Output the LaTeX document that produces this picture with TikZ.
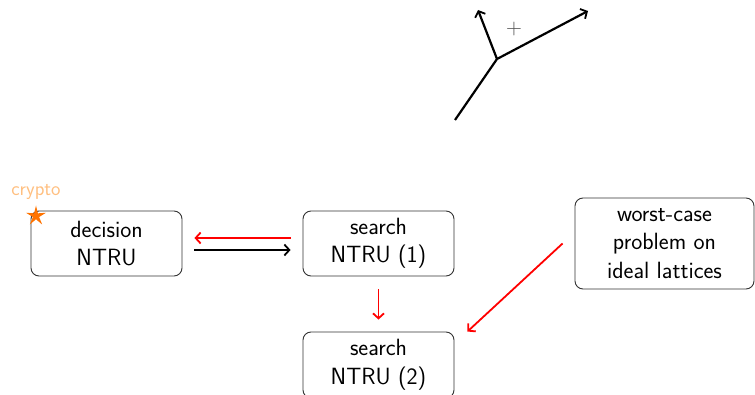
\documentclass[tikz,border=0pt]{standalone}
\usetikzlibrary{shapes.geometric,arrows.meta}
\begin{document}
\begin{tikzpicture}[x=1pt,y=-1pt,
  box/.style={draw=black!80,line width=0.9pt,rounded corners=8pt,align=center,
    inner sep=0pt,font=\sffamily\fontsize{23.5}{28.5}\selectfont},
  tip/.style={-{Straight Barb[length=5pt,width=11pt,line width=1.8pt]}},
  redarrow/.style={tip,red,line width=1.8pt},
  blackarrow/.style={tip,black,line width=1.8pt},
  vec/.style={line width=2.2pt,black},
]
\clip (0,0) rectangle (755,395);
\useasboundingbox (0,0) rectangle (755,395);

\node[box,minimum width=151pt,minimum height=65pt] (dec) at (106.5,243.5) {decision\\NTRU};
\node[box,minimum width=151pt,minimum height=65pt] (s1) at (378.5,243.5) {search\\NTRU (1)};
\node[box,minimum width=151pt,minimum height=66pt] (s2) at (378.5,365) {search\\NTRU (2)};
\node[box,minimum width=179pt,minimum height=91pt] (wc) at (664.5,243.5) {worst-case\\problem on\\ideal lattices};

\draw[redarrow] ([yshift=5.5pt,xshift=-12pt]s1.west) -- ([yshift=5.5pt,xshift=12pt]dec.east);
\draw[blackarrow] ([yshift=-6.5pt,xshift=12pt]dec.east) -- ([yshift=-6.5pt,xshift=-12pt]s1.west);
\draw[redarrow] ([yshift=-13pt]s1.south) -- ([yshift=12pt]s2.north);
\draw[redarrow] ([xshift=-12pt]wc.west) -- ([xshift=13pt]s2.north east);

\node[star,star points=5,star point ratio=3.2,fill=orange!90!red,inner sep=0pt,
  minimum size=21pt] (st) at (36,216) {};
\node[text=orange!50,font=\sffamily\fontsize{20}{22}\selectfont] (cr) at (36,192) {crypto};

\coordinate (o) at (497,59);
\coordinate (a) at (455,120);
\coordinate (b) at (478,10);
\coordinate (c) at (588,11);
\draw[vec] (a) -- (o);
\draw[vec,tip] (o) -- (b);
\draw[vec,tip] (o) -- (c);
\node[text=black!70,font=\fontsize{22}{22}\selectfont] (plus) at (514,29) {+};
\end{tikzpicture}
\end{document}
